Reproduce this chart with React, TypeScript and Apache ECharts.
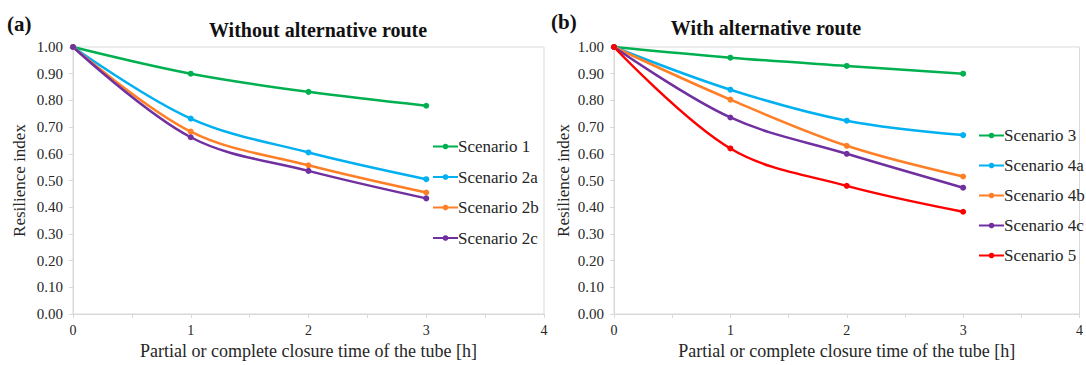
import React, { useEffect, useRef } from "react";
import * as echarts from "echarts";

const hours = [0, 1, 2, 3];
const yTicks = [0, 0.1, 0.2, 0.3, 0.4, 0.5, 0.6, 0.7, 0.8, 0.9, 1.0];

const leftNames = ["Scenario 1", "Scenario 2a", "Scenario 2b", "Scenario 2c"];
const s1 = [1.0, 0.9, 0.832, 0.78];
const s2a = [1.0, 0.732, 0.605, 0.505];
const s2b = [1.0, 0.683, 0.557, 0.455];
const s2c = [1.0, 0.662, 0.536, 0.433];

const rightNames = ["Scenario 3", "Scenario 4a", "Scenario 4b", "Scenario 4c", "Scenario 5"];
const s3 = [1.0, 0.96, 0.929, 0.9];
const s4a = [1.0, 0.84, 0.724, 0.67];
const s4b = [1.0, 0.803, 0.63, 0.515];
const s4c = [1.0, 0.736, 0.6, 0.473];
const s5 = [1.0, 0.62, 0.48, 0.383];

const leftValues = [s1, s2a, s2b, s2c];
const rightValues = [s3, s4a, s4b, s4c, s5];
const leftColors = ["#00B050", "#00B0F0", "#FF7F27", "#7030A0"];
const rightColors = ["#00B050", "#00B0F0", "#FF7F27", "#7030A0", "#FF0000"];

const FONT = "Liberation Serif";
const AXIS_GRAY = "#d9d9d9";
const TEXT = "#262626";

function xAxis(gridIndex: number) {
  return {
    type: "value",
    gridIndex,
    min: 0,
    max: 4,
    interval: 0.5,
    name: "Partial or complete closure time of the tube [h]",
    nameLocation: "middle",
    nameGap: 28,
    nameTextStyle: { fontFamily: FONT, fontSize: 18, color: TEXT },
    axisLine: { show: true, lineStyle: { color: AXIS_GRAY, width: 1 } },
    axisTick: { show: true, length: 4, lineStyle: { color: AXIS_GRAY } },
    axisLabel: {
      fontFamily: FONT,
      fontSize: 14,
      color: TEXT,
      margin: 9,
      formatter: (v: number) => (Number.isInteger(v) ? String(v) : ""),
    },
    splitLine: { show: false },
  };
}

function yAxis(gridIndex: number, nameGap: number) {
  return {
    type: "value",
    gridIndex,
    min: yTicks[0],
    max: yTicks[yTicks.length - 1],
    interval: 0.1,
    name: "Resilience index",
    nameLocation: "middle",
    nameGap,
    nameTextStyle: { fontFamily: FONT, fontSize: 17, color: TEXT },
    axisLine: { show: true, lineStyle: { color: AXIS_GRAY, width: 1 } },
    axisTick: { show: true, length: 4, lineStyle: { color: AXIS_GRAY } },
    axisLabel: {
      fontFamily: FONT,
      fontSize: 15,
      color: TEXT,
      margin: 10,
      formatter: (v: number) => v.toFixed(2),
    },
    splitLine: { show: false },
  };
}

function makeSeries(names: string[], values: number[][], colors: string[], idx: number) {
  return names.map((name, i) => ({
    name,
    type: "line",
    xAxisIndex: idx,
    yAxisIndex: idx,
    smooth: 0.35,
    symbol: "circle",
    symbolSize: 6,
    lineStyle: { width: 2.5, color: colors[i] },
    itemStyle: { color: colors[i] },
    data: hours.map((h, j) => [h, values[i][j]]),
  }));
}

function legend(names: string[], left: number, top: number, gap: number) {
  return {
    data: names,
    orient: "vertical",
    left,
    top,
    itemWidth: 25,
    itemHeight: 7,
    itemGap: gap,
    padding: 0,
    textStyle: { fontFamily: FONT, fontSize: 17, color: TEXT, padding: [0, 0, 0, -5] },
  };
}

export default function App() {
  const ref = useRef<HTMLDivElement>(null);
  useEffect(() => {
    if (!ref.current) return;
    const chart = echarts.init(ref.current, undefined, { renderer: "svg" });
    const titleStyle = { fontFamily: FONT, fontWeight: "bold", fill: "#111" };
    chart.setOption({
      animation: false,
      backgroundColor: "#ffffff",
      textStyle: { fontFamily: FONT },
      grid: [
        { left: 73, top: 47, width: 471, height: 273, show: true, borderColor: AXIS_GRAY, borderWidth: 1, backgroundColor: "transparent" },
        { left: 614, top: 47, width: 474, height: 273, show: true, borderColor: AXIS_GRAY, borderWidth: 1, backgroundColor: "transparent" },
      ],
      xAxis: [xAxis(0), xAxis(1)],
      yAxis: [yAxis(0, 45), yAxis(1, 42)],
      legend: [legend(leftNames, 432, 138, 13.5), legend(rightNames, 978, 127, 13)],
      series: [
        ...makeSeries(leftNames, leftValues, leftColors, 0),
        ...makeSeries(rightNames, rightValues, rightColors, 1),
      ],
      graphic: [
        { type: "text", x: 7, y: 24, style: { ...titleStyle, text: "(a)", fontSize: 21, textAlign: "left", textVerticalAlign: "middle" } },
        { type: "text", x: 318, y: 30, style: { ...titleStyle, text: "Without alternative route", fontSize: 20, textAlign: "center", textVerticalAlign: "middle" } },
        { type: "text", x: 551, y: 22, style: { ...titleStyle, text: "(b)", fontSize: 21, textAlign: "left", textVerticalAlign: "middle" } },
        { type: "text", x: 766, y: 28, style: { ...titleStyle, text: "With alternative route", fontSize: 20, textAlign: "center", textVerticalAlign: "middle" } },
      ],
    });
    return () => chart.dispose();
  }, []);
  return (
    <div
      ref={ref}
      style={{ position: "fixed", left: 0, top: 0, width: 1086, height: 365, background: "#fff" }}
    />
  );
}
